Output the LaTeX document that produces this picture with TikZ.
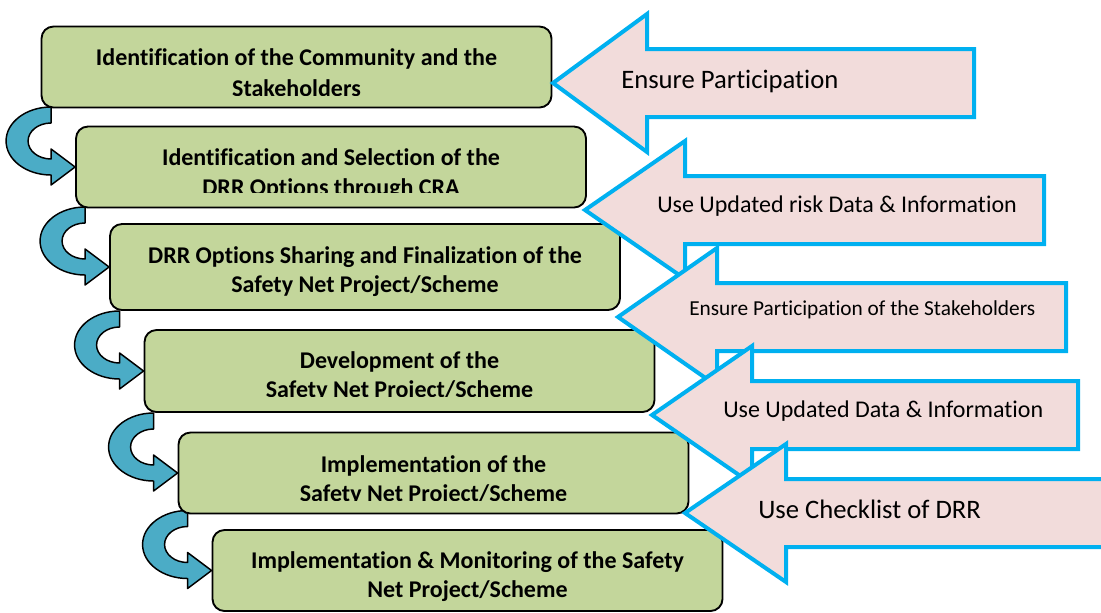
\documentclass[tikz,border=0pt]{standalone}
\usepackage{fontspec}
\setmainfont{Carlito}[Ligatures=NoCommon]
\definecolor{boxgreen}{HTML}{C3D69B}
\definecolor{bendblue}{HTML}{4BACC6}
\definecolor{arrowpink}{HTML}{F2DCDB}
\definecolor{arrowblue}{HTML}{00B0F0}
\pgfdeclarelayer{background}
\pgfsetlayers{background,main}
\tikzset{
  stepbox/.style={draw=black, line width=1.4pt, fill=boxgreen, rounded corners=9pt,
    minimum width=382.5pt, minimum height=60.75pt, inner sep=0pt},
  boxline/.style={font=\bfseries\fontsize{18}{22}\selectfont, anchor=base, inner sep=0pt},
  bendarrow/.style={draw=black, line width=1.1pt, fill=bendblue, line join=round},
  blockarrow/.style={draw=arrowblue, line width=3pt, fill=arrowpink, line join=miter},
  arrowtext/.style={anchor=base west, inner sep=0pt},
}
\newcommand\bendarrow[1]{%
  \draw[bendarrow] ([shift={(-24,-60)}]#1.west)
    arc[start angle=270,end angle=90,x radius=45,y radius=34]
    -- ([shift={(-24,18)}]#1.west) -- (#1.west) -- ([shift={(-24,-18)}]#1.west)
    -- ([shift={(-24,-8)}]#1.west)
    arc[start angle=90,end angle=270,x radius=23,y radius=18] -- cycle;}
\newcommand\blockarrow[3]{% tip coordinate, head depth, shaft length
  \draw[blockarrow] (#1) -- ++(#2,-69) -- ++(0,35) -- ++(#3,0) -- ++(0,68)
    -- ++(-#3,0) -- ++(0,35) -- cycle;}
\begin{document}
\begin{tikzpicture}[x=0.75pt,y=-0.75pt]
\useasboundingbox (0,0) rectangle (1101,612);
% process boxes
\node[stepbox] (b1) at (296.5,67) {};
\node[stepbox] (b2) at (331,167) {};
\node[stepbox, minimum height=64.5pt] (b3) at (365,267) {};
\node[stepbox, minimum height=61.5pt] (b4) at (399.5,371) {};
\node[stepbox] (b5) at (433.5,473) {};
\node[stepbox] (b6) at (467.5,570.5) {};
% box texts
\begin{scope}
  \clip (40,25) rectangle (553,95);
  \node[boxline] (b1a) at (296.5,65) {Identification of the Community and the};
  \node[boxline] (b1b) at (296.5,96) {Stakeholders};
\end{scope}
\begin{scope}
  \clip (75,125) rectangle (587,192.7);
  \node[boxline] (b2a) at (331,165) {Identification and Selection of the};
  \node[boxline] (b2b) at (331,195) {DRR Options through CRA};
\end{scope}
\node[boxline] (b3a) at (365,263) {DRR Options Sharing and Finalization of the};
\node[boxline] (b3b) at (365,292) {Safety Net Project/Scheme};
\begin{scope}
  \clip (143,328) rectangle (656,396.7);
  \node[boxline] (b4a) at (399.5,368) {Development of the};
  \node[boxline] (b4b) at (399.5,397) {Safety Net Project/Scheme};
\end{scope}
\begin{scope}
  \clip (177,430) rectangle (690,500);
  \node[boxline] (b5a) at (433.5,472) {Implementation of the};
  \node[boxline] (b5b) at (433.5,501) {Safety Net Project/Scheme};
\end{scope}
\node[boxline] (b6a) at (467.5,568) {Implementation \& Monitoring of the Safety};
\node[boxline] (b6b) at (467.5,597) {Net Project/Scheme};
% curved connectors
\begin{pgfonlayer}{background}
  \bendarrow{b2}
  \bendarrow{b3}
  \bendarrow{b4}
  \bendarrow{b5}
  \bendarrow{b6}
\end{pgfonlayer}
% block arrows
\coordinate (tA) at (553,83);
\coordinate (tB) at (585,210);
\coordinate (tC) at (618,317);
\coordinate (tD) at (652,415);
\coordinate (tE) at (685,513);
\blockarrow{tA}{94}{327}
\node[arrowtext, font=\fontsize{20}{24}\selectfont] (lA) at (621,88) {Ensure Participation};
\blockarrow{tB}{100}{359}
\node[arrowtext, font=\fontsize{18}{22}\selectfont] (lB) at (657,212) {Use Updated risk Data \& Information};
\blockarrow{tC}{99}{349}
\node[arrowtext, font=\fontsize{16}{19}\selectfont] (lC) at (689,315) {Ensure Participation of the Stakeholders};
\blockarrow{tD}{100}{326}
\node[arrowtext, font=\fontsize{18}{22}\selectfont] (lD) at (723,417) {Use Updated Data \& Information};
\blockarrow{tE}{101}{340}
\node[arrowtext, font=\fontsize{20}{24}\selectfont] (lE) at (758,518) {Use Checklist of DRR};
\end{tikzpicture}
\end{document}
